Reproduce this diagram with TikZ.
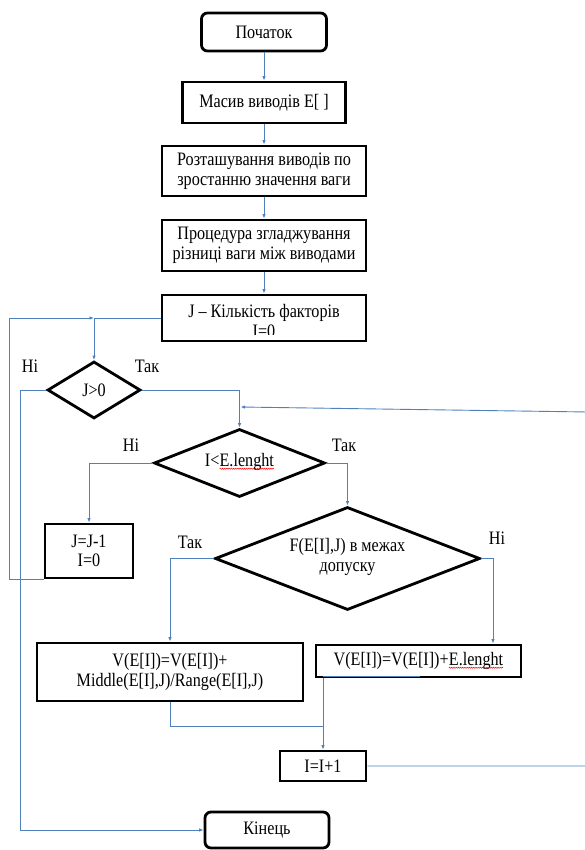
\documentclass[tikz,border=0pt]{standalone}
\usepackage{fontspec}
\setmainfont[FakeStretch=0.85]{Liberation Serif}
\usetikzlibrary{arrows.meta,shapes.geometric,decorations.pathmorphing}
\definecolor{connblue}{HTML}{4F81BD}
\newcommand\txt{\fontsize{19}{19.5}\selectfont}
\newcommand\spellerr[1]{\tikz[baseline=(w.base)]{\node[inner sep=0pt,outer sep=0pt,minimum width=0pt,minimum height=0pt,draw=none](w){#1};\draw[red,line width=0.5pt,decorate,decoration={snake,amplitude=0.6pt,segment length=2.2pt}]([yshift=-2.2pt]w.base west)--([yshift=-2.2pt]w.base east);}}
\begin{document}
\begin{tikzpicture}[x=1pt,y=-1pt,
  box/.style={draw,line width=2.8pt,inner sep=0pt,align=center,font=\txt},
  rbox/.style={box,rounded corners=6pt},
  dia/.style={draw,shape=diamond,line width=2.8pt,inner sep=0pt},
  lbl/.style={font=\txt,inner sep=0pt,align=center},
  conn/.style={draw=connblue,line width=0.9pt},
  arr/.style={conn,-{Latex[length=4.5pt,width=3.5pt]}}]
\useasboundingbox (0,0) rectangle (585,850);

% nodes
\node[rbox,minimum width=125pt,minimum height=38pt] (start) at (264,32) {Початок};
\node[box,minimum width=163pt,minimum height=41pt] (mas) at (264,102.5) {Масив виводів E[ ]};
\node[box,minimum width=204pt,minimum height=50pt] (roz) at (264,171) {Розташування виводів по\\зростанню значення ваги};
\node[box,minimum width=204pt,minimum height=51pt] (proc) at (264,245.5) {Процедура згладжування\\різниці ваги між виводами};
\node[box,minimum width=204pt,minimum height=46pt] (jbox) at (264,318) {};
\begin{scope}
  \clip (163,296) rectangle (365,334);
  \node[lbl] (jtext) at (264,321) {J – Кількість факторів\\I=0};
\end{scope}

\node[dia,minimum width=93pt,minimum height=57pt] (d1) at (94,390) {};
\node[lbl] (d1t) at (d1) {J>0};
\node[dia,minimum width=171pt,minimum height=68pt] (d2) at (239.5,463) {};
\node[lbl] (d2t) at (239.5,462) {I<\spellerr{E.lenght}};
\node[box,minimum width=88pt,minimum height=54pt] (jj) at (89,551) {J=J-1\\I=0};
\node[dia,minimum width=265pt,minimum height=103pt] (d3) at (347.5,558.5) {};
\node[lbl] (d3t) at (347.5,557) {F(E[I],J) в межах\\допуску};
\node[box,minimum width=266pt,minimum height=58pt] (mid) at (170,672) {V(E[I])=V(E[I])+\\Middle(E[I],J)/Range(E[I],J)};
\node[box,minimum width=205pt,minimum height=32pt] (ebox) at (418.5,661) {V(E[I])=V(E[I])+\spellerr{E.lenght}};
\node[box,minimum width=86pt,minimum height=30pt] (inc) at (323,766) {I=I+1};
\node[rbox,minimum width=124pt,minimum height=36pt] (end) at (267,830) {Кінець};

% labels
\node[lbl] (l1) at (30,366) {Ні};
\node[lbl] (l2) at (147,366) {Так};
\node[lbl] (l3) at (131,445) {Ні};
\node[lbl] (l4) at (344,445) {Так};
\node[lbl] (l5) at (190,542) {Так};
\node[lbl] (l6) at (497,538) {Ні};

% helper coordinates
\coordinate (xno) at (493,0);
\coordinate (merge) at (323,726);
\coordinate (rt) at (588,412);
\coordinate (lp) at (240.5,407);

% connectors
\draw[arr] (start.south) -- (mas.north);
\draw[arr] (mas.south) -- (roz.north);
\draw[arr] (roz.south) -- (proc.north);
\draw[arr] (proc.south) -- (jbox.north);
\draw[conn] (jbox.west) -- (d1.north |- jbox.west);
\draw[arr] (d1.north |- jbox.west) -- (d1.north);
\draw[arr] (jj.south west) -- ++(-34,0) |- (d1.north |- jbox.west);
\draw[arr] (d1.west) -- ++(-26,0) |- (end.west);
\draw[arr] (d1.east) -| (d2.north);
\draw[arr] (d2.west) -| (jj.north);
\draw[arr] (d2.east) -| (d3.north);
\draw[arr] (d3.west) -| (mid.north);
\draw[arr] (d3.east) -| (xno |- ebox.north);
\draw[conn] (mid.south) |- (merge);
\draw[conn] (inc.north |- ebox.south) ++(0,-2) -- ++(97,0);
\draw[arr] (inc.north |- ebox.south) -- (inc.north);
\draw[arr] (inc.east) -- (inc.east -| rt) -- (rt) -- (lp);
\end{tikzpicture}
\end{document}
